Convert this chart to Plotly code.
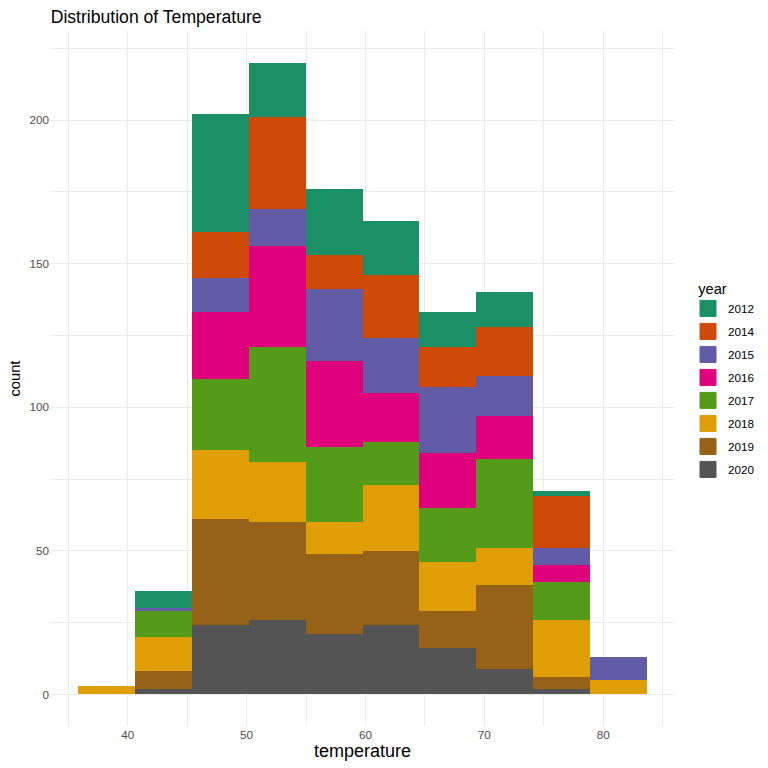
import plotly.graph_objects as go

# Data (10 bins)
bin_edges = [35.85, 40.63, 45.41, 50.19, 54.97, 59.75, 64.53, 69.31, 74.09, 78.87, 83.65]
years = ["2012", "2014", "2015", "2016", "2017", "2018", "2019", "2020"]

count_2012 = [0, 6, 41, 19, 23, 19, 12, 12, 2, 0]
count_2014 = [0, 0, 16, 32, 12, 22, 14, 17, 18, 0]
count_2015 = [0, 1, 12, 13, 25, 19, 23, 14, 6, 8]
count_2016 = [0, 0, 23, 35, 30, 17, 19, 15, 6, 0]
count_2017 = [0, 9, 25, 40, 26, 15, 19, 31, 13, 0]
count_2018 = [3, 12, 24, 21, 11, 23, 17, 13, 20, 5]
count_2019 = [0, 6, 37, 34, 28, 26, 13, 29, 4, 0]
count_2020 = [0, 2, 24, 26, 21, 24, 16, 9, 2, 0]

colors = {
    "2012": "#1B9066",
    "2014": "#CF4A09",
    "2015": "#625BA6",
    "2016": "#DF007C",
    "2017": "#569A19",
    "2018": "#DF9D06",
    "2019": "#956217",
    "2020": "#545454",
}

counts = {
    "2012": count_2012, "2014": count_2014, "2015": count_2015, "2016": count_2016,
    "2017": count_2017, "2018": count_2018, "2019": count_2019, "2020": count_2020,
}

centers = [(a + b) / 2 for a, b in zip(bin_edges[:-1], bin_edges[1:])]
widths = [b - a for a, b in zip(bin_edges[:-1], bin_edges[1:])]

fig = go.Figure()

# bottom of the stack first (2020), top last (2012)
for yr in reversed(years):
    fig.add_trace(go.Bar(
        x=centers, y=counts[yr], width=widths, name=yr, legendgroup=yr,
        showlegend=False,
        marker=dict(color=colors[yr], line=dict(width=0)),
    ))

# legend-only square keys, bigger than the default bar icon (like ggplot's)
for i, yr in enumerate(years):
    fig.add_trace(go.Scatter(
        x=[None], y=[None], mode="markers", name=yr, legendgroup=yr,
        legendrank=i + 1, hoverinfo="skip",
        marker=dict(symbol="square", size=16, color=colors[yr],
                    line=dict(width=1, color=colors[yr])),
    ))

# page body adds an 8px offset, so the figure is 760 wide/high
grid = "#EBEBEB"
fig.update_layout(
    width=760, height=760,
    barmode="stack", bargap=0,
    plot_bgcolor="white", paper_bgcolor="white",
    font=dict(family="Liberation Sans, Arial, sans-serif", color="black", size=14.7),
    margin=dict(l=42, r=93, t=23, b=42),
    title=dict(text="Distribution of Temperature", x=42.7 / 760, xanchor="left",
               y=1 - 9 / 760, yanchor="middle", font=dict(size=17.6)),
    legend=dict(title=dict(text="&nbsp;&nbsp;year", font=dict(size=14.7)),
                traceorder="grouped",
                xref="container", x=680 / 760, xanchor="left", y=0.6492, yanchor="top",
                font=dict(size=11.7), itemwidth=30, tracegroupgap=4),
    showlegend=True,
)
fig.update_xaxes(
    range=[33.46, 86.04], tickvals=[40, 50, 60, 70, 80],
    showgrid=True, gridcolor=grid, gridwidth=1.1, zeroline=False,
    tickfont=dict(size=11.7, color="#4D4D4D"), ticks="",
    minor=dict(dtick=5, tick0=35, showgrid=True, gridcolor=grid, gridwidth=0.55),
    title=dict(text="temperature", standoff=4),
)
fig.update_yaxes(
    range=[-11, 231], tickvals=[0, 50, 100, 150, 200],
    showgrid=True, gridcolor=grid, gridwidth=1.1, zeroline=False,
    tickfont=dict(size=11.7, color="#4D4D4D"), ticks="",
    minor=dict(dtick=25, tick0=25, showgrid=True, gridcolor=grid, gridwidth=0.55),
)

# y axis title placed by hand, further left than plotly's standoff allows
fig.add_annotation(text="count", textangle=-90, xref="paper", yref="paper",
                   x=(6 - 42) / 625, y=0.5, xanchor="center", yanchor="middle",
                   showarrow=False, font=dict(size=14.7))

fig.write_html("out.html")
